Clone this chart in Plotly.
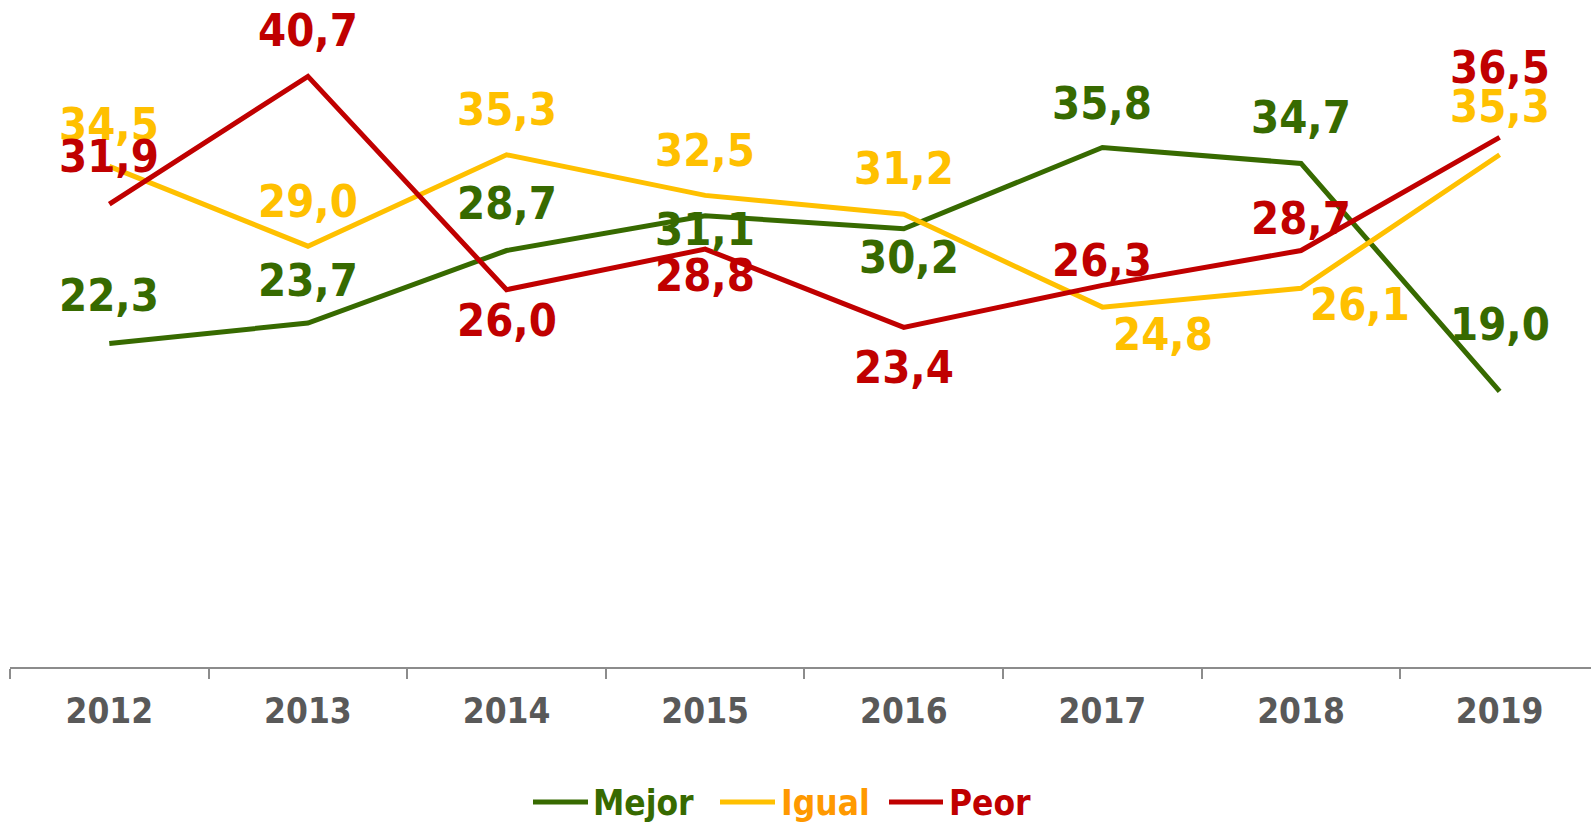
import plotly.graph_objects as go

years = ["2012", "2013", "2014", "2015", "2016", "2017", "2018", "2019"]
mejor = [22.3, 23.7, 28.7, 31.1, 30.2, 35.8, 34.7, 19.0]
igual = [34.5, 29.0, 35.3, 32.5, 31.2, 24.8, 26.1, 35.3]
peor = [31.9, 40.7, 26.0, 28.8, 23.4, 26.3, 28.7, 36.5]

# label offsets in pixels (xshift, yshift)
mejor_off = [(0, 48), (0, 43), (0, 47), (0, -14), (5, -29), (0, 44), (0, 46), (0, 67)]
igual_off = [(0, 42), (0, 45), (0, 45), (0, 45), (0, 46), (61, -27), (59, -16), (0, 48)]
peor_off = [(0, 48), (0, 46), (0, -31), (0, -26), (0, -40), (0, 25), (0, 32), (0, 70)]

GREEN = "#376A00"
YELLOW = "#FFC000"
RED = "#C00000"
LEG_IGUAL = "#FF9900"
FONT = "DejaVu Sans Condensed, DejaVu Sans, sans-serif"

W, H = 1591, 822
ML, MR, MT, MB = 10, 0, 14, 155
PW, PH = W - ML - MR, H - MT - MB


def px_x(px):
    return (px - ML) / PW


def px_y(py):
    return (H - MB - py) / PH


fig = go.Figure()
series = [
    ("Mejor", mejor, GREEN, GREEN, mejor_off),
    ("Igual", igual, YELLOW, LEG_IGUAL, igual_off),
    ("Peor", peor, RED, RED, peor_off),
]
annotations = []
for name, vals, col, legcol, offs in series:
    fig.add_trace(go.Scatter(
        x=years, y=vals, mode="lines", name=name,
        line=dict(color=col, width=5),
        hoverinfo="skip",
    ))
    for i, (v, (dx, dy)) in enumerate(zip(vals, offs)):
        annotations.append(dict(
            x=i, y=v, xref="x", yref="y",
            text=f"{v:.1f}".replace(".", ","),
            showarrow=False, xshift=dx, yshift=dy,
            font=dict(family=FONT, size=45, color=col, weight="bold"),
        ))

# manual legend (line sample + label)
legend_items = [
    ("Mejor", GREEN, GREEN, 533, 588, 591),
    ("Igual", YELLOW, LEG_IGUAL, 720, 775, 779),
    ("Peor", RED, RED, 889, 943, 947),
]
shapes = []
LEG_Y = 802
for name, col, tcol, x0, x1, xt in legend_items:
    shapes.append(dict(
        type="line", xref="paper", yref="paper",
        x0=px_x(x0), x1=px_x(x1), y0=px_y(LEG_Y), y1=px_y(LEG_Y),
        line=dict(color=col, width=5),
    ))
    annotations.append(dict(
        x=px_x(xt), y=px_y(LEG_Y + 1), xref="paper", yref="paper",
        xanchor="left", yanchor="middle", showarrow=False,
        text=name,
        font=dict(family=FONT, size=35, color=tcol, weight="bold"),
    ))

fig.update_layout(
    width=W, height=H,
    margin=dict(l=ML, r=MR, t=MT, b=MB, autoexpand=False),
    paper_bgcolor="white", plot_bgcolor="white",
    showlegend=False,
    annotations=annotations,
    shapes=shapes,
)
fig.update_xaxes(
    type="category", range=[-0.5, 7.46],
    showline=True, linecolor="#8C8C8C", linewidth=2,
    ticks="outside", tickson="boundaries", ticklen=10, tickcolor="#8C8C8C", tickwidth=2,
    showgrid=False, zeroline=False, automargin=False,
    tickfont=dict(family=FONT, size=35, color="#595959", weight="bold"),
    ticklabelstandoff=12,
)
fig.update_yaxes(range=[0, 45], visible=False, showgrid=False, zeroline=False, automargin=False)

fig.write_html(
    "out.html",
    config={"displayModeBar": False},
    post_script="document.body.style.margin='0';document.body.style.overflow='hidden';",
)
